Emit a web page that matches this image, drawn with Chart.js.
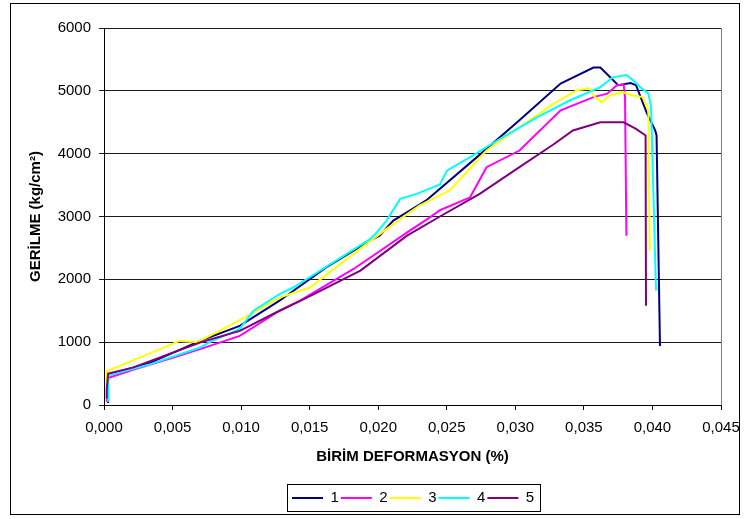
<!DOCTYPE html>
<html>
<head>
<meta charset="utf-8">
<script src="https://cdn.jsdelivr.net/npm/chart.js@4.4.1/dist/chart.umd.min.js"></script>
<style>
  html, body { margin: 0; padding: 0; background: #fff; }
  canvas { display: block; }
</style>
</head>
<body>
<canvas id="stressChart" width="745" height="519"></canvas>
<script>
const seriesNames = ["1", "2", "3", "4", "5"];
const seriesColors = ["#000080", "#FF00FF", "#FFFF00", "#00FFFF", "#800080"];

// birim deformasyon / gerilme
const strain1 = [0.0003, 0.0003, 0.0034, 0.0070, 0.0099, 0.0128, 0.0162, 0.0196, 0.0201, 0.0211, 0.0223, 0.0235, 0.0245, 0.0272, 0.0303, 0.0333, 0.0357, 0.0362, 0.0369, 0.0375, 0.0384, 0.0388, 0.0396, 0.0402, 0.0403, 0.04055];
const stress1 = [30, 480, 675, 1020, 1260, 1660, 2190, 2640, 2695, 2935, 3095, 3255, 3440, 3945, 4530, 5115, 5370, 5370, 5220, 5090, 5125, 5090, 4640, 4370, 4290, 940];

const strain2 = [0.0002, 0.0003, 0.0021, 0.0050, 0.0070, 0.0099, 0.0128, 0.0143, 0.0182, 0.0223, 0.0238, 0.0245, 0.0267, 0.0279, 0.0303, 0.0333, 0.0357, 0.0367, 0.0374, 0.0379, 0.0380, 0.0381];
const stress2 = [50, 430, 560, 750, 890, 1100, 1500, 1660, 2165, 2775, 2990, 3100, 3305, 3785, 4050, 4690, 4900, 4955, 5090, 5100, 4900, 2695];

const strain3 = [0.0002, 0.0002, 0.0026, 0.0055, 0.0068, 0.0094, 0.0128, 0.0150, 0.0196, 0.0218, 0.0230, 0.0252, 0.0279, 0.0303, 0.0328, 0.0345, 0.0354, 0.0358, 0.0363, 0.0369, 0.0378, 0.0385, 0.0393, 0.0397, 0.0398];
const stress3 = [100, 540, 755, 1020, 1000, 1290, 1710, 1870, 2640, 2990, 3175, 3415, 4050, 4420, 4795, 5010, 5040, 4900, 4820, 4930, 4980, 4930, 4900, 4690, 2456];

const strain4 = [0.0003, 0.0003, 0.0034, 0.0070, 0.0077, 0.0099, 0.0109, 0.0128, 0.0138, 0.0194, 0.0199, 0.0206, 0.0216, 0.0228, 0.0245, 0.0250, 0.0267, 0.0291, 0.0316, 0.0340, 0.0362, 0.0371, 0.0381, 0.0386, 0.0391, 0.0397, 0.0399, 0.04026];
const stress4 = [50, 470, 650, 915, 1000, 1210, 1500, 1765, 1870, 2640, 2750, 2935, 3280, 3360, 3510, 3730, 3945, 4265, 4580, 4850, 5060, 5215, 5250, 5165, 5060, 4955, 4740, 1820];

const strain5 = [0.0002, 0.0002, 0.0003, 0.0021, 0.0070, 0.0099, 0.0128, 0.0148, 0.0187, 0.0221, 0.0245, 0.0274, 0.0303, 0.0328, 0.0342, 0.0362, 0.0367, 0.0379, 0.0388, 0.0395, 0.03953];
const stress5 = [100, 250, 500, 595, 995, 1180, 1500, 1710, 2140, 2695, 3000, 3360, 3785, 4150, 4370, 4500, 4500, 4500, 4395, 4290, 1580];

const strainSeries = [strain1, strain2, strain3, strain4, strain5];
const stressSeries = [stress1, stress2, stress3, stress4, stress5];

const toPoints = (xs, ys) => xs.map((x, i) => ({ x: x, y: ys[i] }));

Chart.defaults.font.family = "'Liberation Sans', Arial, sans-serif";
Chart.defaults.font.size = 15;
Chart.defaults.color = "#000";

const framePlugin = {
  id: "frame",
  afterLayout(chart) {
    // legend sits a bit right of centre in the original
    const legend = chart.legend;
    const dx = 290 - legend.left;
    legend.left += dx;
    legend.right += dx;
  },
  beforeDatasetsDraw(chart) {
    const { ctx, chartArea } = chart;
    ctx.save();
    ctx.strokeStyle = "#808080";
    ctx.lineWidth = 1;
    ctx.beginPath();
    ctx.moveTo(Math.round(chartArea.right) + 0.5, chartArea.top);
    ctx.lineTo(Math.round(chartArea.right) + 0.5, chartArea.bottom);
    ctx.stroke();
    ctx.restore();
  },
  afterDraw(chart) {
    const ctx = chart.ctx;
    const legend = chart.legend;
    const boxes = legend.legendHitBoxes;
    const last = boxes[boxes.length - 1];
    ctx.save();
    ctx.strokeStyle = "#000";
    ctx.lineWidth = 1;
    ctx.strokeRect(10.5, 3.5, 729, 511);
    const left = Math.round(boxes[0].left - 5) + 0.5;
    const right = Math.round(last.left + last.width + 6) + 0.5;
    const top = Math.round(legend.top - 4.5) + 0.5;
    const bottom = Math.round(legend.bottom - 4.5) + 0.5;
    ctx.strokeRect(left, top, right - left, bottom - top);
    ctx.restore();
  }
};

new Chart("stressChart", {
  type: "scatter",
  data: {
    datasets: seriesNames.map((name, i) => ({
      label: name,
      data: toPoints(strainSeries[i], stressSeries[i]),
      showLine: true,
      borderColor: seriesColors[i],
      backgroundColor: seriesColors[i],
      borderWidth: 2,
      pointRadius: 0,
      tension: 0,
      order: seriesNames.length - 1 - i
    }))
  },
  options: {
    responsive: false,
    animation: false,
    devicePixelRatio: 1,
    layout: {
      padding: { left: 0, top: 28, right: 24, bottom: 3.5 }
    },
    plugins: {
      legend: {
        position: "bottom",
        align: "start",
        labels: {
          usePointStyle: true,
          pointStyle: "line",
          pointStyleWidth: 31,
          padding: 2,
          color: "#000",
          font: { size: 15 },
          sort: (a, b) => a.datasetIndex - b.datasetIndex
        }
      },
      tooltip: { enabled: false }
    },
    scales: {
      x: {
        type: "linear",
        min: 0,
        max: 0.045,
        afterFit: scale => {
          scale.height = 83.5;
          scale.paddingLeft = 0;
          scale.paddingRight = 0;
        },
        ticks: {
          stepSize: 0.005,
          padding: 9,
          maxRotation: 0,
          callback: value => value.toFixed(3).replace(".", ",")
        },
        grid: {
          drawOnChartArea: false,
          drawTicks: true,
          tickLength: 5,
          color: "#000"
        },
        border: { display: true, color: "#000", width: 1 },
        title: {
          display: true,
          text: "BİRİM DEFORMASYON (%)",
          font: { size: 15, weight: "bold" },
          padding: { top: 0, bottom: 22.5 }
        }
      },
      y: {
        min: 0,
        max: 6000,
        afterFit: scale => {
          scale.width = 104;
          scale.paddingTop = 0;
          scale.paddingBottom = 0;
        },
        ticks: {
          stepSize: 1000,
          padding: 8,
          callback: value => String(value)
        },
        grid: {
          color: "#1a1a1a",
          tickLength: 5
        },
        border: { display: true, color: "#000", width: 1 },
        title: {
          display: true,
          text: "GERİLME (kg/cm²)",
          font: { size: 15, weight: "bold" },
          padding: { top: 27, bottom: 0 }
        }
      }
    }
  },
  plugins: [framePlugin]
});
</script>
</body>
</html>
